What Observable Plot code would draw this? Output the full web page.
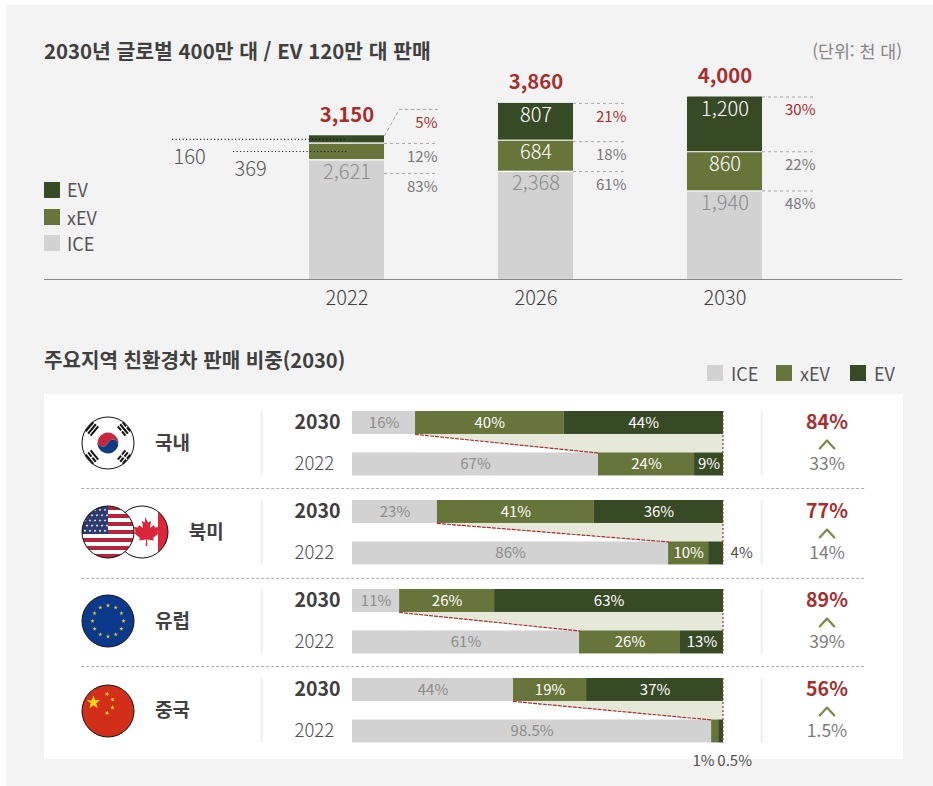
<!DOCTYPE html>
<html lang="ko">
<head>
<meta charset="utf-8">
<script src="https://cdn.jsdelivr.net/npm/d3@7"></script>
<script src="https://cdn.jsdelivr.net/npm/@observablehq/plot@0.6"></script>
<style>
html,body{margin:0;padding:0;background:#fff}
#page{position:relative;width:933px;height:786px;overflow:hidden;font-family:"Noto Sans CJK KR","Noto Sans",sans-serif;color:#404040}
#panel{position:absolute;left:6px;top:5px;right:0;bottom:0;background:#f3f3f3}
#card{position:absolute;left:44px;top:394px;width:859px;height:365px;background:#fff}
.t{position:absolute;white-space:nowrap;line-height:24px}
.sw{position:absolute;width:16px;height:16px}
#page svg{position:absolute;left:0;overflow:visible}
</style>
</head>
<body>
<div id="page"><div id="panel"></div><div id="card"></div></div>
<script>
// ---------- data ----------
const seriesNames = ["ICE", "xEV", "EV"];
const seriesColors = ["#d2d2d2", "#67743a", "#374a26"];
const years = [2022, 2026, 2030];
const iceUnits = [2621, 2368, 1940];
const xevUnits = [369, 684, 860];
const evUnits = [160, 807, 1200];
const totals = ["3,150", "3,860", "4,000"];
const totalUnits = [3150, 3860, 4000];
const unitLabels = [["2,621", "369", "160"], ["2,368", "684", "807"], ["1,940", "860", "1,200"]];
const globalShares = [["83%", "12%", "5%"], ["61%", "18%", "21%"], ["48%", "22%", "30%"]];
const calloutLevels = [[2325, 2982, 3728], [2368, 3020, 3860], [1940, 2800, 4000]];

const regions = ["국내", "북미", "유럽", "중국"];
const regionNameX = [-48.5, -39.4, -48.5, -48.5];
// bar lengths as measured in the picture, next to the printed labels
const lengths2030 = [[17, 40, 43], [22.9, 42.3, 34.8], [12.7, 25.6, 61.7], [43.4, 19.7, 36.9]];
const lengths2022 = [[66.3, 25.9, 7.8], [85.2, 10.8, 4], [61.2, 27.2, 11.6], [96.8, 1.9, 1.3]];
const labels2030 = [["16%", "40%", "44%"], ["23%", "41%", "36%"], ["11%", "26%", "63%"], ["44%", "19%", "37%"]];
const labels2022 = [["67%", "24%", "9%"], ["86%", "10%", ""], ["61%", "26%", "13%"], ["98.5%", "", ""]];
const green2030 = ["84%", "77%", "89%", "56%"];
const green2022 = ["33%", "14%", "39%", "1.5%"];
const outsideLabels = [
  {r: 1, o: 0.595, x: 104.9, text: "4%"},
  {r: 3, o: 0.925, x: 94.6, text: "1%"},
  {r: 3, o: 0.925, x: 103, text: "0.5%"}
];

// ---------- colours ----------
const RED = "#a82e2e", DARK = "#404040", GREY = "#7c7c7c", ICEGREY = "#8c8c8c", PALE = "#e6e9d9", CHEV = "#7b8a45";
const FONT = '"Noto Sans CJK KR","Noto Sans",sans-serif';
const page = document.getElementById("page");

// ---------- html text ----------
function txt(s, x, cy, size, o = {}) {
  const e = document.createElement("div");
  e.className = "t";
  e.textContent = s;
  e.style.top = (cy - 12) + "px";
  e.style.fontSize = size + "px";
  if (o.right != null) e.style.right = o.right + "px"; else e.style.left = x + "px";
  e.style.fontWeight = o.w || 400;
  e.style.color = o.c || DARK;
  page.appendChild(e);
}
function swatch(c, x, y) {
  const e = document.createElement("div");
  e.className = "sw"; e.style.left = x + "px"; e.style.top = y + "px"; e.style.background = c;
  page.appendChild(e);
}
txt("2030년 글로벌 400만 대 / EV 120만 대 판매", 44, 50, 20.4, {w: 700});
txt("(단위: 천 대)", 0, 51, 17.3, {right: 31, c: "#858585"});
txt("주요지역 친환경차 판매 비중(2030)", 44, 360, 20.1, {w: 700});
[["EV", 2, 182, 189], ["xEV", 1, 209, 216.5], ["ICE", 0, 235, 243]].forEach(([n, i, y, c]) => {
  swatch(seriesColors[i], 44, y);
  txt(n, 67, c, 18, {c: "#555"});
});
[["ICE", 0, 707, 731], ["xEV", 1, 776, 800], ["EV", 2, 850, 874]].forEach(([n, i, x, tx]) => {
  swatch(seriesColors[i], x, 365);
  txt(n, tx, 372.5, 18, {c: "#555"});
});

// ---------- top chart ----------
const barHalf = 0.794, calloutEnd = 1.915;
const segs = [], inside = [], callouts = [], shareText = [], bounds = [];
years.forEach((yr, i) => {
  let b = 0;
  [iceUnits[i], xevUnits[i], evUnits[i]].forEach((v, s) => {
    segs.push({yr, s: seriesNames[s], y1: b, y2: b + v});
    b += v;
    if (s < 2) bounds.push({yr, y: b});
    const lv = calloutLevels[i][s];
    callouts.push({yr, y: lv});
    shareText.push({yr, y: lv, text: globalShares[i][s], s});
    if (i > 0 || s === 0) inside.push({yr, y: b, text: unitLabels[i][s], s});
  });
});
const lead = [
  {x1: 2018.31, y: 3070, text: unitLabels[0][2], tx: 2018.67},
  {x1: 2019.6, y: 2805, text: unitLabels[0][1], tx: 2019.96}
];
const top5 = [{x: 2022 + barHalf, y: 3150}, {x: 2022 + 1.11, y: 3728}, {x: 2022 + calloutEnd, y: 3728}];

const topPlot = Plot.plot({
  width: 933, height: 330, marginTop: 0, marginBottom: 51, marginLeft: 0, marginRight: 0,
  style: {background: "transparent", fontFamily: FONT},
  x: {domain: [2022, 2030], range: [346.5, 724.5], axis: null},
  y: {domain: [0, 279 / 0.045625], axis: null},
  color: {domain: seriesNames, range: seriesColors},
  marks: [
    Plot.rect(segs, {x1: d => d.yr - barHalf, x2: d => d.yr + barHalf, y1: "y1", y2: "y2", fill: "s"}),
    Plot.ruleY(bounds, {x1: d => d.yr - barHalf, x2: d => d.yr + barHalf, y: "y", stroke: "#fff", strokeWidth: 1.2}),
    Plot.ruleY([0], {x1: 2015.6, x2: 2033.76, stroke: "#888", strokeWidth: 1.2}),
    Plot.text(years, {x: d => d, y: 0, dy: 19.5, text: d => String(d), fontSize: 20, fill: DARK, fontWeight: 300}),
    Plot.ruleY(callouts.filter(d => !(d.yr === 2022 && d.y === 3728)), {
      x1: d => d.yr + barHalf, x2: d => d.yr + calloutEnd, y: "y", stroke: "#a8a8a8", strokeWidth: 1, strokeDasharray: "3 3"}),
    Plot.line(top5, {x: "x", y: "y", stroke: "#a8a8a8", strokeWidth: 1, strokeDasharray: "3 3"}),
    Plot.ruleY(lead, {x1: "x1", x2: () => 2022, y: "y", stroke: "#111", strokeWidth: 1.2, strokeDasharray: "1 2.5"}),
    Plot.text(lead, {x: "tx", y: "y", dy: 18.5, text: "text", fontSize: 20, fill: "#555", fontWeight: 300}),
    Plot.text(years, {x: d => d, y: (d, i) => totalUnits[i], dy: -20.5, text: (d, i) => totals[i], fontSize: 20.3, fontWeight: 700, fill: RED}),
    Plot.text(inside, {x: "yr", y: "y", dy: 12.5, text: "text", fontSize: 20, fontWeight: 300, fill: d => d.s === 0 ? ICEGREY : "#fff"}),
    Plot.text(shareText, {x: d => d.yr + calloutEnd, y: "y", dy: 13.5, text: "text", textAnchor: "end", fontSize: 15, fontWeight: 400, fill: d => d.s === 2 ? RED : "#7a7a7a"})
  ]
});
topPlot.style.top = "0px";
page.appendChild(topPlot);

// ---------- regional chart ----------
const barH = 0.258, off22 = 0.466, mid30 = 0.129, mid22 = 0.595;
const rows = [], inLabels = [], wedges = [], slopes = [], edges = [];
regions.forEach((reg, r) => {
  [[lengths2030[r], labels2030[r], 0], [lengths2022[r], labels2022[r], off22]].forEach(([len, lab, o]) => {
    let b = 0;
    len.forEach((v, s) => {
      rows.push({r, s: seriesNames[s], x1: b, x2: b + v, y1: r + o, y2: r + o + barH});
      if (lab[s]) inLabels.push({x: b + v / 2, y: r + o + barH / 2, text: lab[s], s: seriesNames[s]});
      b += v;
    });
  });
  const a = lengths2030[r][0], c = lengths2022[r][0], yb = r + barH, yt = r + off22;
  wedges.push({r, x: a, y1: yb, y2: yb}, {r, x: c, y1: yb, y2: yt}, {r, x: 100, y1: yb, y2: yt});
  slopes.push({r, x: a, y: yb}, {r, x: c, y: yt});
  edges.push({r, y1: r, y2: r + off22 + barH});
});
const chevrons = regions.flatMap((_, r) => [
  {r, x: 127.9 - 1.97, y: r + 0.415}, {r, x: 127.9, y: r + 0.326}, {r, x: 127.9 + 1.97, y: r + 0.415}
]);
const seps = [0.865, 1.875, 2.865].map(y => ({y}));
const rIdx = regions.map((_, r) => r);

const bottomPlot = Plot.plot({
  width: 933, height: 392, margin: 0,
  style: {background: "transparent", fontFamily: FONT},
  x: {domain: [0, 100], range: [352, 723], axis: null},
  y: {domain: [0, 4], range: [17, 373], axis: null},
  color: {domain: seriesNames, range: seriesColors},
  marks: [
    Plot.areaY(wedges, {x: "x", y1: "y1", y2: "y2", z: "r", fill: PALE}),
    Plot.rect(rows, {x1: "x1", x2: "x2", y1: "y1", y2: "y2", fill: "s"}),
    Plot.line(slopes, {x: "x", y: "y", z: "r", stroke: RED, strokeWidth: 1.2, strokeDasharray: "3 2"}),
    Plot.ruleX(edges, {x: () => 99.85, y1: "y1", y2: "y2", stroke: RED, strokeWidth: 1.2, strokeDasharray: "2 2"}),
    Plot.ruleX(rIdx, {x: () => -24.5, y1: d => d, y2: d => d + off22 + barH, stroke: "#eeeeee", strokeWidth: 2}),
    Plot.ruleX(rIdx, {x: () => 110.3, y1: d => d, y2: d => d + off22 + barH, stroke: "#eeeeee", strokeWidth: 2}),
    Plot.ruleY(seps, {x1: () => -73, x2: () => 138.2, y: "y", stroke: "#b0b0b0", strokeWidth: 1, strokeDasharray: "3 2"}),
    Plot.text(rIdx, {x: (d, i) => regionNameX[i], y: d => d + 0.365, text: d => regions[d], fontSize: 19, fontWeight: 700, fill: DARK}),
    Plot.text(rIdx, {x: 0, y: d => d + mid30, dx: -58, text: () => "2030", textAnchor: "start", fontSize: 19.5, fontWeight: 700, fill: DARK}),
    Plot.text(rIdx, {x: 0, y: d => d + mid22, dx: -58, text: () => "2022", textAnchor: "start", fontSize: 18.5, fontWeight: 300, fill: "#505050"}),
    Plot.text(inLabels, {x: "x", y: "y", text: "text", fontSize: 15, fill: d => d.s === "ICE" ? ICEGREY : "#fff"}),
    Plot.text(rIdx, {x: () => 127.9, y: d => d + mid30, text: d => green2030[d], fontSize: 19.5, fontWeight: 700, fill: RED}),
    Plot.line(chevrons, {x: "x", y: "y", z: "r", stroke: CHEV, strokeWidth: 2.2}),
    Plot.text(rIdx, {x: () => 127.9, y: d => d + mid22, text: d => green2022[d], fontSize: 17.5, fontWeight: 400, fill: GREY}),
    Plot.text(outsideLabels, {x: "x", y: d => d.r + d.o, text: "text", fontSize: 15, fill: "#505050"})
  ]
});
bottomPlot.style.top = "394px";
page.appendChild(bottomPlot);

// ---------- flags (pictograms) ----------
const NS = "http://www.w3.org/2000/svg";
const star = (cx, cy, R, rot = 0) => d3.range(10).map(i => {
  const a = -Math.PI / 2 + rot + i * Math.PI / 5, q = i % 2 ? R * 0.4 : R;
  return (cx + q * Math.cos(a)).toFixed(2) + "," + (cy + q * Math.sin(a)).toFixed(2);
}).join(" ");
let f = "<defs>";
[["ck", 108, 443], ["cu", 108, 532], ["cc", 142, 532], ["ce", 108, 621], ["cn", 108, 711]].forEach(([id, x, y]) => {
  f += `<clipPath id="${id}"><circle cx="${x}" cy="${y}" r="26"/></clipPath>`;
});
f += "</defs>";
// Korea
f += `<circle cx="108" cy="443" r="26" fill="#fff"/>`;
f += `<g transform="translate(108,443) rotate(20)"><path d="M-10.5,0A10.5,10.5 0 0 1 10.5,0A5.25,5.25 0 0 0 0,0A5.25,5.25 0 0 1 -10.5,0Z" fill="#c8263c"/><path d="M-10.5,0A10.5,10.5 0 0 0 10.5,0A5.25,5.25 0 0 0 0,0A5.25,5.25 0 0 1 -10.5,0Z" fill="#0f3a84"/></g>`;
[[-1, -1, [0,0,0]], [1, -1, [1,0,1]], [-1, 1, [0,1,0]], [1, 1, [1,1,1]]].forEach(([sx, sy, pat]) => {
  const ang = Math.atan2(sy * 14, sx * 17) * 180 / Math.PI + 90;
  f += `<g transform="translate(${108 + sx * 16.5},${443 + sy * 14.5}) rotate(${ang})">`;
  pat.forEach((p, k) => {
    const y = -3.6 + k * 3.2;
    if (p) f += `<rect x="-6" y="${y}" width="5.3" height="2" fill="#111"/><rect x="0.7" y="${y}" width="5.3" height="2" fill="#111"/>`;
    else f += `<rect x="-6" y="${y}" width="12" height="2" fill="#111"/>`;
  });
  f += "</g>";
});
f += `<circle cx="108" cy="443" r="26" fill="none" stroke="#111" stroke-width="1"/>`;
// Canada
f += `<g clip-path="url(#cc)"><rect x="116" y="506" width="52" height="52" fill="#fff"/><rect x="158" y="506" width="10" height="52" fill="#d9263a"/></g>`;
f += `<path fill="#d9263a" d="M146,517 l3,5.5 3,-1.5 -1,7 4,-3 1,2.5 4,-0.5 -1.5,5 1.5,1 -6,5 1,2.5 -7,-1 0.3,6.5 h-1.6 l0.3,-6.5 -7,1 1,-2.5 -6,-5 1.5,-1 -1.5,-5 4,0.5 1,-2.5 4,3 -1,-7 3,1.5z" transform="translate(-1 0)"/>`;
f += `<circle cx="142" cy="532" r="26" fill="none" stroke="#111" stroke-width="1"/>`;
// USA
f += `<g clip-path="url(#cu)"><rect x="82" y="506" width="52" height="52" fill="#fff"/>`;
d3.range(7).forEach(i => { f += `<rect x="82" y="${506 + i * 8}" width="52" height="4" fill="#b5233c"/>`; });
f += `<rect x="82" y="506" width="26" height="28" fill="#2d3a6f"/>`;
d3.range(5).forEach(j => d3.range(5).forEach(i => {
  f += `<polygon points="${star(85 + i * 5 + (j % 2) * 2, 510 + j * 5.2, 1.5)}" fill="#fff"/>`;
}));
f += `</g><circle cx="108" cy="532" r="26" fill="none" stroke="#111" stroke-width="1"/>`;
// EU
f += `<circle cx="108" cy="621" r="26" fill="#0b3a8c" stroke="#111" stroke-width="1"/>`;
d3.range(12).forEach(i => {
  const a = i * Math.PI / 6;
  f += `<polygon points="${star(108 + 15.5 * Math.sin(a), 621 - 15.5 * Math.cos(a), 2.2)}" fill="#f4c91c"/>`;
});
// China
f += `<circle cx="108" cy="711" r="26" fill="#d22f1a" stroke="#111" stroke-width="1"/>`;
f += `<polygon points="${star(93.5, 702.5, 7)}" fill="#fbdc14"/>`;
[[107, 694, 0.4], [112.5, 699.5, 0.9], [112.5, 707.5, 0], [107, 713, 0.4]].forEach(([x, y, rot]) => {
  f += `<polygon points="${star(x, y, 2.4, rot)}" fill="#fbdc14"/>`;
});
const flags = document.createElementNS(NS, "svg");
flags.setAttribute("width", 933); flags.setAttribute("height", 786);
flags.style.top = "0px";
flags.innerHTML = f;
page.appendChild(flags);
</script>
</body>
</html>
